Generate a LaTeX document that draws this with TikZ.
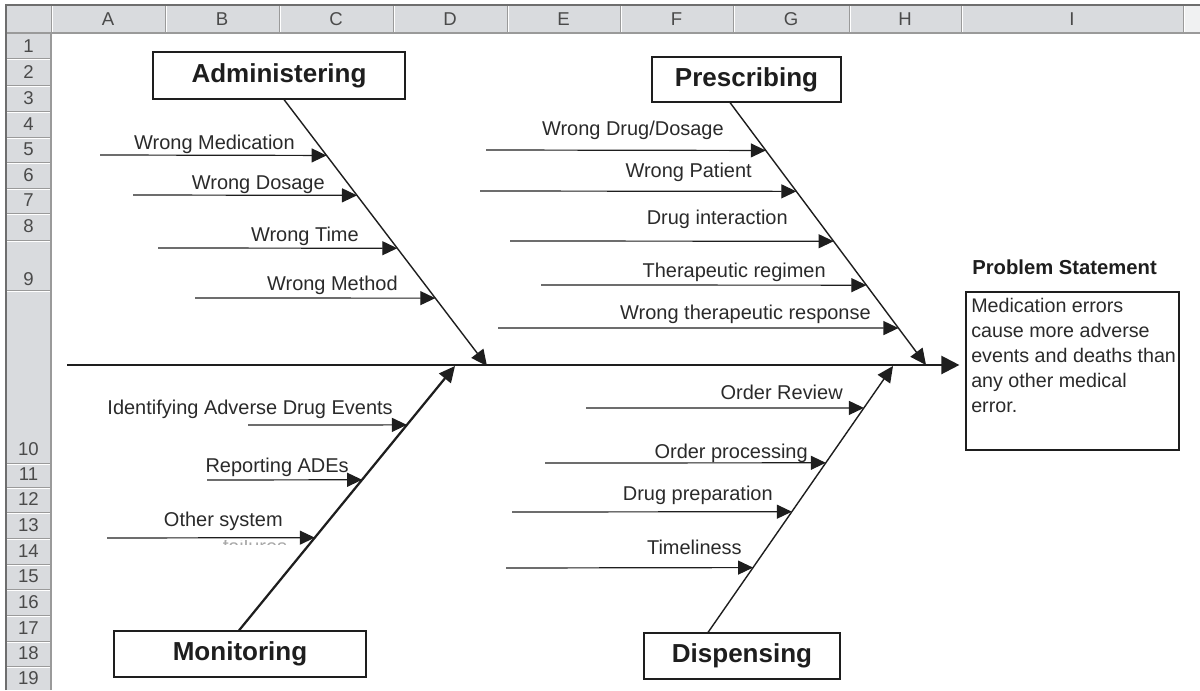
\documentclass[tikz,border=0pt]{standalone}
\usepackage{fontspec}
\setmainfont{Liberation Sans}
\usetikzlibrary{arrows.meta,calc}
% one unit of the drawing grid is 0.025cm
\definecolor{hdrfill}{HTML}{D9DBDE}
\definecolor{hdrline}{HTML}{9A9A9A}
\definecolor{hdrtext}{HTML}{4A4A4A}
\definecolor{frameline}{HTML}{6E6E6E}
\definecolor{ink}{HTML}{1E1E1E}
\definecolor{labeltext}{HTML}{2A2A2A}
\definecolor{ghost}{HTML}{A8A8A8}
\tikzset{
  hdr/.style={font=\fontsize{13.2}{14}\selectfont, text=hdrtext, inner sep=0pt},
  catbox/.style={draw=ink, line width=0.8pt, fill=white, inner sep=0pt,
    font=\bfseries\fontsize{18.5}{20}\selectfont, text=ink,
    text height=13.3pt, text depth=3.9pt},
  cause/.style={font=\fontsize{14.2}{17}\selectfont, text=labeltext,
    inner sep=0pt, anchor=base east},
  twig/.style={draw=ink, line width=0.85pt, -{Triangle[length=0.375cm,width=0.35cm]}},
  bone/.style={draw=ink, line width=1.0pt, -{Triangle[length=0.4cm,width=0.375cm]}},
  heavybone/.style={draw=ink, line width=1.6pt, -{Triangle[length=0.4cm,width=0.375cm]}},
  spine/.style={draw=ink, line width=1.6pt, -{Triangle[length=0.45cm,width=0.45cm]}},
}
\begin{document}
\begin{tikzpicture}[x=0.025cm, y=-0.025cm]
\useasboundingbox (0,0) rectangle (1200,690);

% ---- worksheet frame: column and row headers ----
\fill[hdrfill] (6,5) rectangle (1200,33);
\fill[hdrfill] (6,33) rectangle (51,690);
\fill[white!60!hdrfill] (1184,5) rectangle (1200,33);
\foreach \x in {51,165,279,393,507,620,733,849,961,1183} {
  \draw[hdrline, line width=0.025cm] (\x,6) -- (\x,33);
  \draw[white, line width=0.025cm] (\x+1,6) -- (\x+1,32);
}
\foreach \y in {59,85,111,137,162,188,213,240,290,463,487,512,538,564,589,615,641,666} {
  \draw[hdrline, line width=0.025cm] (6,\y) -- (51,\y);
  \draw[white, line width=0.025cm] (7,\y+1) -- (50,\y+1);
}
\draw[hdrline, line width=0.03cm] (6,33) -- (1200,33);
\draw[hdrline, line width=0.03cm] (51,33) -- (51,690);
\draw[frameline, line width=0.05cm] (6,690) -- (6,5) -- (1200,5);

\foreach \x/\l in {108/A,222/B,336/C,450/D,563.5/E,676.5/F,791/G,905/H,1072/I}
  \node[hdr] (col-\l) at (\x,19.5) {\l};
\foreach \y/\r in {46/1,72/2,98/3,124/4,149.5/5,175/6,200.5/7,226.5/8,279/9,449/10,
                   474/11,499.5/12,525/13,551/14,576.5/15,602/16,628/17,653.5/18,678/19}
  \node[hdr] (row-\r) at (28.5,\y) {\r};

% ---- category boxes ----
\node[catbox, minimum width=6.3cm, minimum height=1.175cm] (adm) at (279,75.5) {Administering};
\node[catbox, minimum width=4.725cm, minimum height=1.125cm] (pre) at (746.5,79.5) {Prescribing};
\node[catbox, minimum width=6.3cm, minimum height=1.15cm] (mon) at (240,654) {Monitoring};
\node[catbox, minimum width=4.9cm, minimum height=1.15cm] (dis) at (742,656) {Dispensing};

% ---- problem statement ----
\node[draw=ink, line width=0.8pt, minimum width=5.325cm, minimum height=3.95cm, inner sep=0pt]
  (ps) at (1072.5,371) {};
\node[font=\bfseries\fontsize{14.4}{17}\selectfont, text=ink, inner sep=0pt, anchor=base west]
  (ps-title) at (972,274) {Problem Statement};
\node[font=\fontsize{14}{17.8}\selectfont, text=labeltext, inner sep=0pt, anchor=north west, align=left]
  (ps-text) at (971,297.5) {Medication errors\\cause more adverse\\events and deaths than\\any other medical\\error.};

% ---- spine ----
\coordinate (spL) at (67,365);
\draw[spine, shorten >=0.15cm] (spL) -- (spL -| ps.west);

% ---- bones ----
\coordinate (admA) at ($(adm.south)+(5,0)$);
\coordinate (admB) at (487,366);
\coordinate (preA) at ($(pre.south)+(-16.5,0)$);
\coordinate (preB) at (926,365);
\coordinate (monA) at ($(mon.north)+(-1,0)$);
\coordinate (monB) at (455,366);
\coordinate (disA) at ($(dis.north)+(-34,0)$);
\coordinate (disB) at (893,366);
\draw[bone] (admA) -- (admB);
\draw[bone] (preA) -- (preB);
\draw[heavybone] (monA) -- (monB);
\draw[bone] (disA) -- (disB);

% ---- causes on each bone: tail x / arrow y / label right x / label baseline ----
\foreach \n/\tx/\y/\lx/\by/\txt in {
    wm/100/155/295/149/{Wrong Medication},
    wd/133/195/325/189/{Wrong Dosage},
    wt/158/248/359/241/{Wrong Time},
    wme/195/298/398/290/{Wrong Method}} {
  \coordinate (\n-tail) at (\tx,\y);
  \coordinate (\n-tip) at ($(admA)!{(\y-99)/267}!(admB)$);
  \draw[twig] (\n-tail) -- (\n-tip);
  \node[cause] (\n) at (\lx,\by) {\txt};
}
\foreach \n/\tx/\y/\lx/\by/\txt in {
    wdd/486/150/724/135/{Wrong Drug/Dosage},
    wp/480/191/752/177/{Wrong Patient},
    di/510/241/788/224/{Drug interaction},
    tr/541/285/826/277/{Therapeutic regimen},
    wtr/498/328/871/319/{Wrong therapeutic response}} {
  \coordinate (\n-tail) at (\tx,\y);
  \coordinate (\n-tip) at ($(preA)!{(\y-102)/263}!(preB)$);
  \draw[twig] (\n-tail) -- (\n-tip);
  \node[cause] (\n) at (\lx,\by) {\txt};
}
\foreach \n/\tx/\y/\lx/\by/\txt in {
    ordr/586/408/843/399/{Order Review},
    ordp/545/463/808/458/{Order processing},
    dp/512/512/773/500/{Drug preparation},
    tl/506/568/742/554/{Timeliness}} {
  \coordinate (\n-tail) at (\tx,\y);
  \coordinate (\n-tip) at ($(disA)!{(633-\y)/267}!(disB)$);
  \draw[twig] (\n-tail) -- (\n-tip);
  \node[cause] (\n) at (\lx,\by) {\txt};
}
\foreach \n/\tx/\y/\lx/\by/\txt in {
    iade/248/425/393/414/{Identifying Adverse Drug Events},
    ra/207/480/349/472/{Reporting ADEs},
    os/107/538/283/526/{Other system}} {
  \coordinate (\n-tail) at (\tx,\y);
  \coordinate (\n-tip) at ($(monA)!{(631-\y)/265}!(monB)$);
  \draw[twig] (\n-tail) -- (\n-tip);
  \node[cause] (\n) at (\lx,\by) {\txt};
}
% second line of the last label, mostly hidden by the cell below
\begin{scope}
  \clip (200,540.5) rectangle (300,544.5);
  \node[font=\fontsize{14.2}{17}\selectfont, text=ghost, inner sep=0pt, anchor=base]
    (os-more) at (255,553) {failures};
\end{scope}
\end{tikzpicture}
\end{document}
